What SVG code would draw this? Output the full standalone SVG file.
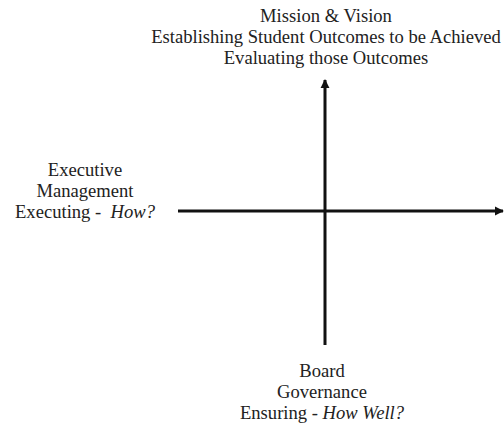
<svg xmlns="http://www.w3.org/2000/svg" width="504" height="424" viewBox="0 0 504 424">
<style>
text{font-family:"Liberation Serif","Times New Roman",serif;font-size:18.6px;fill:#222;text-anchor:middle}
.i{font-style:italic}
.ax{stroke:#111;stroke-width:3;fill:none}
</style>
<defs>
<marker id="ah" viewBox="0 0 10 10" refX="9" refY="5" markerWidth="3" markerHeight="3.5" orient="auto" markerUnits="strokeWidth">
<path d="M0,0 L10,5 L0,10 Z" fill="#111"/>
</marker>
</defs>
<rect width="504" height="424" fill="#fff"/>
<g id="connectors">
<line class="ax" x1="325" y1="345" x2="325" y2="80" marker-end="url(#ah)"/>
<line class="ax" x1="178" y1="211" x2="503" y2="211" marker-end="url(#ah)"/>
</g>
<g id="top">
<text x="326" y="22">Mission &amp; Vision</text>
<text x="326" y="43">Establishing Student Outcomes to be Achieved</text>
<text x="326" y="64">Evaluating those Outcomes</text>
</g>
<g id="left">
<text x="85" y="176">Executive</text>
<text x="85" y="197">Management</text>
<text x="85" y="218" xml:space="preserve">Executing -  <tspan class="i">How?</tspan></text>
</g>
<g id="bottom">
<text x="322" y="377">Board</text>
<text x="322" y="398">Governance</text>
<text x="322" y="419">Ensuring - <tspan class="i">How Well?</tspan></text>
</g>
</svg>
